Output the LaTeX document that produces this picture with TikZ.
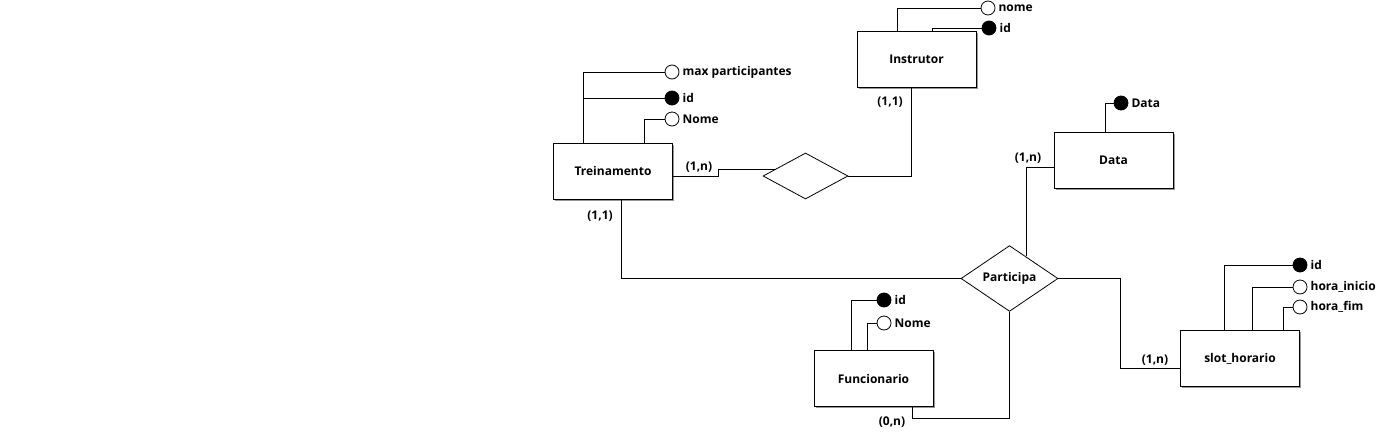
\documentclass[tikz,border=0pt]{standalone}
\usepackage{fontspec}
\setmainfont{Open Sans}
\usetikzlibrary{shapes.geometric, positioning, calc, shadows}
\definecolor{erline}{RGB}{0, 0, 0}
\definecolor{ershadow}{RGB}{150, 150, 150}
\tikzset{
  entity/.style={rectangle, draw=erline, fill=white, line width=0.8pt,
                 minimum width=119pt, minimum height=56pt, inner sep=0pt,
                 font=\fontsize{12}{14}\selectfont\bfseries,
                 drop shadow={shadow xshift=1.6pt, shadow yshift=-1.6pt, fill=ershadow, opacity=1}},
  relation/.style={diamond, draw=erline, fill=white, line width=0.8pt, inner sep=0pt,
                   font=\fontsize{12}{14}\selectfont\bfseries},
  attr/.style={circle, draw=erline, fill=white, line width=0.8pt, minimum size=14pt, inner sep=0pt,
               label={[attrtext]right:#1}},
  keyattr/.style={attr=#1, fill=black},
  attrtext/.style={font=\fontsize{12}{14}\selectfont\bfseries, inner sep=1.5pt, label distance=1.5pt},
  card/.style={font=\fontsize{12}{14}\selectfont\bfseries, inner sep=0pt},
  link/.style={draw=erline, line width=0.8pt},
}
\begin{document}
\begin{tikzpicture}[x=1pt, y=-1pt]
  \useasboundingbox[fill=white] (0,0) rectangle (1383,436);

  % entities
  \node[entity] (treino) at (613,171) {Treinamento};
  \node[entity] (instr) at (916.5,59) {Instrutor};
  \node[entity] (data) at (1113.5,160) {Data};
  \node[entity] (slot) at (1240,358.5) {slot\_horario};
  \node[entity] (func) at (873.5,378.5) {Funcionario};

  % relationships
  \node[relation, minimum width=85pt, minimum height=46pt] (ministra) at (805.5,176) {};
  \node[relation, minimum width=97pt, minimum height=61pt] (part) at (1009.5,278.5) {Participa};

  % attributes
  \node[attr=max participantes] (tmaxp) at (672,72) {};
  \node[keyattr=id] (tid) at (672,98) {};
  \node[attr=Nome] (tnome) at (672,119) {};
  \node[attr=nome] (inome) at (988,8) {};
  \node[keyattr=id] (iid) at (989,28) {};
  \node[keyattr=Data] (ddata) at (1121,103) {};
  \node[keyattr=id] (sid) at (1300,265) {};
  \node[attr=hora\_inicio] (sini) at (1300,287) {};
  \node[attr=hora\_fim] (sfim) at (1300,307) {};
  \node[keyattr=id] (fid) at (884,300) {};
  \node[attr=Nome] (fnome) at (884,323) {};

  % attribute links
  \draw[link] ($(treino.north west)+(30,0)$) |- (tmaxp.west);
  \draw[link] ($(treino.north west)+(30,0)$) |- (tid.west);
  \draw[link] ($(treino.north west)+(91,0)$) |- (tnome.west);
  \draw[link] ($(instr.north west)+(41,0)$) |- (inome.west);
  \draw[link] ($(instr.north west)+(76,0)$) |- (iid.west);
  \draw[link] ($(data.north west)+(52,0)$) |- (ddata.west);
  \draw[link] ($(slot.north west)+(44,0)$) |- (sid.west);
  \draw[link] ($(slot.north west)+(72,0)$) |- (sini.west);
  \draw[link] ($(slot.north west)+(103,0)$) |- (sfim.west);
  \draw[link] ($(func.north west)+(38,0)$) |- (fid.west);
  \draw[link] ($(func.north west)+(54,0)$) |- (fnome.west);

  % relationship links
  \draw[link] ($(treino.east)+(0,5)$) -- ++(45,0) |- ($(ministra.west)+(12.9,-7)$);
  \draw[link] (ministra.east) -| ($(instr.south)+(-5.5,0)$);
  \draw[link] ($(treino.south)+(8,0)$) |- (part.west);
  \draw[link] ($(data.west)+(0,7)$) -| ($(part.north)+(16.5,10.4)$);
  \draw[link] (part.east) -| ($(slot.west)+(-60,10)$) -- ($(slot.west)+(0,10)$);
  \draw[link] ($(func.south)+(38.5,0)$) -- ++(0,11) -| (part.south);

  % cardinalities
  \node[card] (c1) at (699,167) {(1,n)};
  \node[card] (c2) at (890,102) {(1,1)};
  \node[card] (c3) at (600,216) {(1,1)};
  \node[card] (c4) at (1028,158) {(1,n)};
  \node[card] (c5) at (1155,360) {(1,n)};
  \node[card] (c6) at (892,422) {(0,n)};
\end{tikzpicture}
\end{document}
